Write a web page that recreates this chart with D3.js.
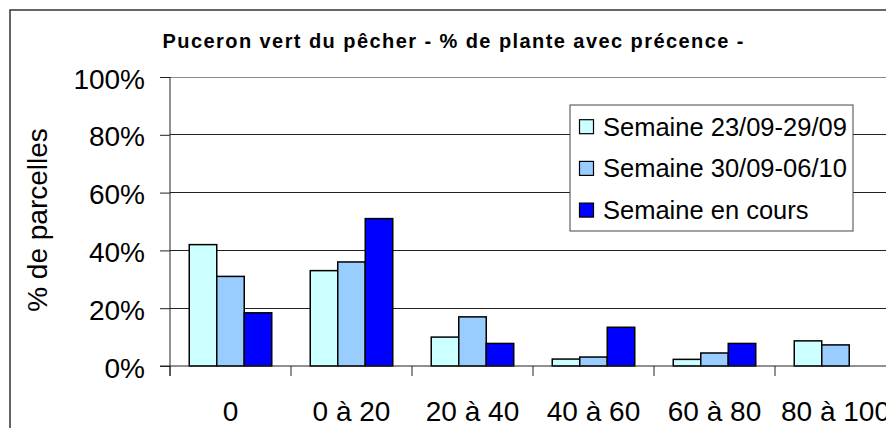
<!DOCTYPE html>
<html>
<head>
<meta charset="utf-8">
<script src="https://cdn.jsdelivr.net/npm/d3@7"></script>
<style>
  body { margin: 0; background: #fff; }
  text { font-family: Arial, "Liberation Sans", sans-serif; }
</style>
</head>
<body>
<svg></svg>
<script>
// Data
const categories = ['0', '0 à 20', '20 à 40', '40 à 60', '60 à 80', '80 à 100']
const seriesNames = ['Semaine 23/09-29/09', 'Semaine 30/09-06/10', 'Semaine en cours']
const week1 = [0.42, 0.33, 0.10, 0.024, 0.023, 0.087]
const week2 = [0.31, 0.36, 0.17, 0.031, 0.045, 0.073]
const current = [0.184, 0.51, 0.078, 0.134, 0.078, 0]
const yTicks = [0, 0.2, 0.4, 0.6, 0.8, 1]
const colors = ['#ccffff', '#99ccff', '#0000ff']

const values = [week1, week2, current]
const rows = categories.map((c, i) => ({
  cat: c,
  vals: seriesNames.map((s, j) => ({ s, v: values[j][i] })),
}))

const width = 886
const height = 428
const svg = d3.select('svg').attr('width', width).attr('height', height)

// chart frame (runs off the right / bottom edges)
svg
  .append('rect')
  .attr('x', 10)
  .attr('y', 10)
  .attr('width', 900)
  .attr('height', 440)
  .attr('fill', 'none')
  .attr('stroke', '#333')
  .attr('stroke-width', 1.5)

// Scales
const x = d3.scaleBand().domain(categories).range([170, 170 + 121 * 6]).padding(0)
const xs = d3.scaleBand().domain(seriesNames).range([0, x.bandwidth()]).paddingInner(0).paddingOuter(0.7)
const y = d3.scaleLinear().domain([0, 1]).range([366, 77])

// Gridlines
svg
  .append('g')
  .selectAll('line')
  .data(yTicks.filter((d) => d > 0))
  .join('line')
  .attr('x1', 170)
  .attr('x2', width)
  .attr('y1', (d) => y(d))
  .attr('y2', (d) => y(d))
  .attr('stroke', (d) => (d === 1 ? '#888' : '#222'))
  .attr('stroke-width', 1)
  .attr('shape-rendering', 'crispEdges')

// Bars
const groups = svg
  .append('g')
  .selectAll('g')
  .data(rows)
  .join('g')
  .attr('transform', (d) => `translate(${x(d.cat)},0)`)
groups
  .selectAll('rect')
  .data((d) => d.vals.filter((e) => e.v > 0))
  .join('rect')
  .attr('x', (d) => xs(d.s))
  .attr('y', (d) => y(d.v))
  .attr('width', xs.bandwidth())
  .attr('height', (d) => y(0) - y(d.v))
  .attr('fill', (d) => colors[seriesNames.indexOf(d.s)])
  .attr('stroke', '#000')
  .attr('stroke-width', 1.5)

// Y axis
const yAxis = svg
  .append('g')
  .attr('transform', 'translate(170,0)')
  .call(d3.axisLeft(y).tickValues(yTicks).tickFormat(d3.format('.0%')).tickSize(10).tickPadding(15))
yAxis.select('.domain').attr('d', 'M0,77V376').attr('stroke', '#222')
yAxis.selectAll('.tick line').attr('stroke', '#222')
yAxis
  .selectAll('.tick text')
  .attr('font-size', 28)
  .attr('font-family', 'Arial, "Liberation Sans", sans-serif')
  .attr('fill', '#000')
  .attr('dy', 11)

// X axis (last label runs off the edge, as in the original)
const xAxis = svg
  .append('g')
  .attr('transform', 'translate(0,366)')
  .call(d3.axisBottom(x).tickSize(0).tickPadding(0))
xAxis.select('.domain').attr('d', 'M160,0H' + width).attr('stroke', '#222')
xAxis
  .selectAll('.tick text')
  .attr('font-size', 28)
  .attr('font-family', 'Arial, "Liberation Sans", sans-serif')
  .attr('fill', '#000')
  .attr('y', 55)
  .attr('dy', 0)
svg
  .append('g')
  .selectAll('line')
  .data(categories)
  .join('line')
  .attr('x1', (d) => x(d))
  .attr('x2', (d) => x(d))
  .attr('y1', 366)
  .attr('y2', 376)
  .attr('stroke', '#222')

// Title
svg
  .append('text')
  .attr('x', 453)
  .attr('y', 48)
  .attr('text-anchor', 'middle')
  .attr('font-size', 20)
  .attr('font-weight', 'bold')
  .attr('textLength', 581)
  .attr('lengthAdjust', 'spacing')
  .text('Puceron vert du pêcher - % de plante avec précence -')

// Y axis title
svg
  .append('text')
  .attr('transform', 'translate(47,220) rotate(-90)')
  .attr('text-anchor', 'middle')
  .attr('font-size', 28)
  .text('% de parcelles')

// Legend
const legend = svg.append('g').attr('transform', 'translate(570,105)')
legend
  .append('rect')
  .attr('width', 283)
  .attr('height', 126)
  .attr('fill', '#fff')
  .attr('stroke', '#444')
  .attr('stroke-width', 1)
const items = legend
  .selectAll('g')
  .data(seriesNames)
  .join('g')
  .attr('transform', (d, i) => `translate(0,${21.7 + i * 41.7})`)
items
  .append('rect')
  .attr('x', 9.5)
  .attr('y', -7)
  .attr('width', 14)
  .attr('height', 14)
  .attr('fill', (d, i) => colors[i])
  .attr('stroke', '#000')
  .attr('stroke-width', 1.2)
items
  .append('text')
  .attr('x', 33)
  .attr('y', 9)
  .attr('font-size', 25.5)
  .text((d) => d)
</script>
</body>
</html>
